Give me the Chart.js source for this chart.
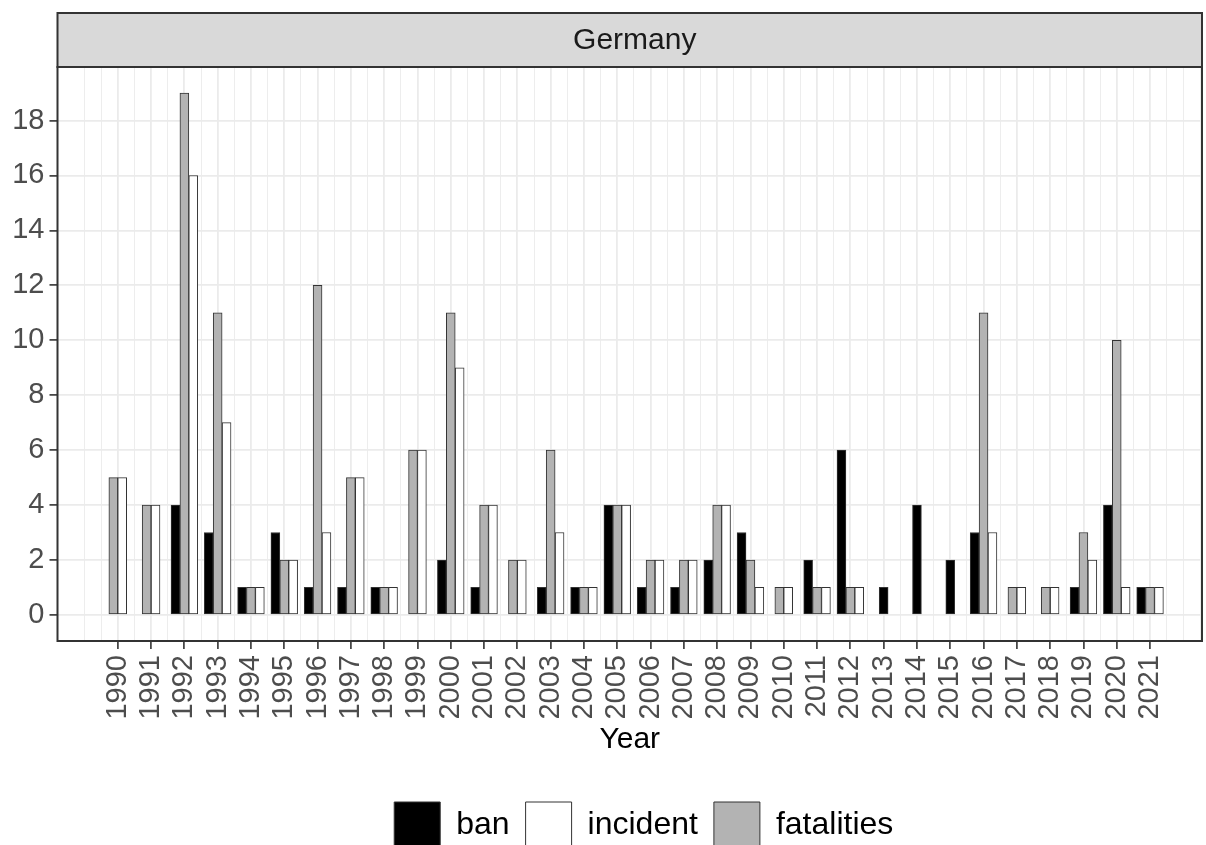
<!DOCTYPE html>
<html>
<head>
<meta charset="utf-8">
<script src="https://cdn.jsdelivr.net/npm/chart.js@4.4.1/dist/chart.umd.min.js"></script>
<style>
  html, body { margin: 0; padding: 0; background: #ffffff; }
  #wrap { width: 1206px; height: 845px; }
</style>
</head>
<body>
<div id="wrap"><canvas id="grafico"></canvas></div>
<script>
// datos (null = sin registro ese año)
const anios = [1990, 1991, 1992, 1993, 1994, 1995, 1996, 1997, 1998, 1999, 2000,
  2001, 2002, 2003, 2004, 2005, 2006, 2007, 2008, 2009, 2010,
  2011, 2012, 2013, 2014, 2015, 2016, 2017, 2018, 2019, 2020, 2021];
const ban = [null, null, 4, 3, 1, 3, 1, 1, 1, null, 2,
  1, null, 1, 1, 4, 1, 1, 2, 3, null,
  2, 6, 1, 4, 2, 3, null, null, 1, 4, 1];
const fatalities = [5, 4, 19, 11, 1, 2, 12, 5, 1, 6, 11,
  4, 2, 6, 1, 4, 2, 2, 4, 2, 1,
  1, 1, null, null, null, 11, 1, 1, 3, 10, 1];
const incident = [5, 4, 16, 7, 1, 2, 3, 5, 1, 6, 9,
  4, 2, 3, 1, 4, 2, 2, 4, 1, 1,
  1, 1, null, null, null, 3, 1, 1, 2, 1, 1];
const ordenLeyenda = ['ban', 'incident', 'fatalities'];
const panelTitulo = 'Germany';
const yTicks = [0, 2, 4, 6, 8, 10, 12, 14, 16, 18];

const fuente = "'Liberation Sans', Arial, sans-serif";
const grisTexto = '#4d4d4d';

// marco del panel y la franja gris con el titulo
const panelPlugin = {
  id: 'panelPlugin',
  afterLayout(chart) {
    // la leyenda del original queda algo a la derecha del centro
    if (chart.legend) {
      chart.legend.left += 14;
      chart.legend.right += 14;
    }
  },
  afterDraw(chart) {
    const ctx = chart.ctx;
    const a = chart.chartArea;
    ctx.save();
    // franja
    ctx.fillStyle = '#d9d9d9';
    ctx.fillRect(a.left, 13, a.right - a.left, a.top - 13);
    ctx.strokeStyle = '#333333';
    ctx.lineWidth = 2;
    ctx.strokeRect(a.left, 13, a.right - a.left, a.top - 13);
    ctx.fillStyle = '#1a1a1a';
    ctx.font = '30px ' + fuente;
    ctx.textAlign = 'center';
    ctx.textBaseline = 'middle';
    ctx.fillText(panelTitulo, (a.left + a.right) / 2 + 5, (13 + a.top) / 2 + 1);
    // borde del panel
    ctx.strokeRect(a.left, a.top, a.right - a.left, a.bottom - a.top);
    ctx.restore();
  }
};

function mitades(desde, hasta) {
  const t = [];
  for (let v = desde; v <= hasta + 1e-9; v += 0.5) t.push({ value: v });
  return t;
}

const esAnioMarcado = v => Number.isInteger(v) && v >= anios[0] && v <= anios[anios.length - 1];

const estiloBarra = {
  borderColor: '#333333',
  borderWidth: 1,
  borderSkipped: false,
  barThickness: 8.9,
  skipNull: true
};

const config = {
  type: 'bar',
  data: {
    labels: anios,
    datasets: [
      Object.assign({ label: 'ban', data: ban, backgroundColor: '#000000' }, estiloBarra),
      Object.assign({ label: 'fatalities', data: fatalities, backgroundColor: '#b3b3b3' }, estiloBarra),
      Object.assign({ label: 'incident', data: incident, backgroundColor: '#ffffff' }, estiloBarra)
    ]
  },
  plugins: [panelPlugin],
  options: {
    responsive: true,
    maintainAspectRatio: false,
    animation: false,
    layout: { padding: { top: 67, right: 4, bottom: -13, left: 0 } },
    plugins: {
      tooltip: { enabled: false },
      legend: {
        position: 'bottom',
        fullSize: false,
        labels: {
          color: '#000000',
          font: { family: fuente, size: 32 },
          boxWidth: 46,
          boxHeight: 46,
          padding: 16,
          sort: (a, b) => ordenLeyenda.indexOf(a.text) - ordenLeyenda.indexOf(b.text)
        }
      }
    },
    scales: {
      x: {
        type: 'linear',
        min: 1988.19,
        max: 2022.56,
        offset: false,
        afterBuildTicks: s => { s.ticks = mitades(1989, 2022.5); },
        afterFit: s => {
          s.height = 145;
          s.paddingLeft = 0;
          s.paddingRight = 0;
        },
        border: { display: false },
        grid: {
          offset: false,
          color: '#ebebeb',
          lineWidth: c => esAnioMarcado(c.tick.value) ? 1.8 : 0.9,
          tickColor: c => esAnioMarcado(c.tick.value) ? '#333333' : 'rgba(0,0,0,0)',
          tickWidth: 1.6,
          tickLength: 8
        },
        ticks: {
          autoSkip: false,
          maxRotation: 90,
          minRotation: 90,
          padding: 6,
          color: grisTexto,
          font: { family: fuente, size: 29 },
          callback: v => esAnioMarcado(v) ? String(v) : ''
        },
        title: {
          display: true,
          text: 'Year',
          color: '#000000',
          font: { family: fuente, size: 30 },
          padding: { top: 0, bottom: 28 }
        }
      },
      y: {
        min: -0.95,
        max: 19.95,
        afterBuildTicks: s => {
          const t = [];
          for (let v = 0; v <= 19; v++) t.push({ value: v });
          s.ticks = t;
        },
        afterFit: s => { s.width = 57.5; },
        border: { display: false },
        grid: {
          color: '#ebebeb',
          lineWidth: c => yTicks.includes(c.tick.value) ? 1.8 : 0.9,
          tickColor: c => yTicks.includes(c.tick.value) ? '#333333' : 'rgba(0,0,0,0)',
          tickWidth: 1.6,
          tickLength: 8
        },
        ticks: {
          padding: 5,
          color: grisTexto,
          font: { family: fuente, size: 29 },
          callback: v => yTicks.includes(v) ? String(v) : ''
        }
      }
    }
  }
};

new Chart(document.getElementById('grafico'), config);
</script>
</body>
</html>
